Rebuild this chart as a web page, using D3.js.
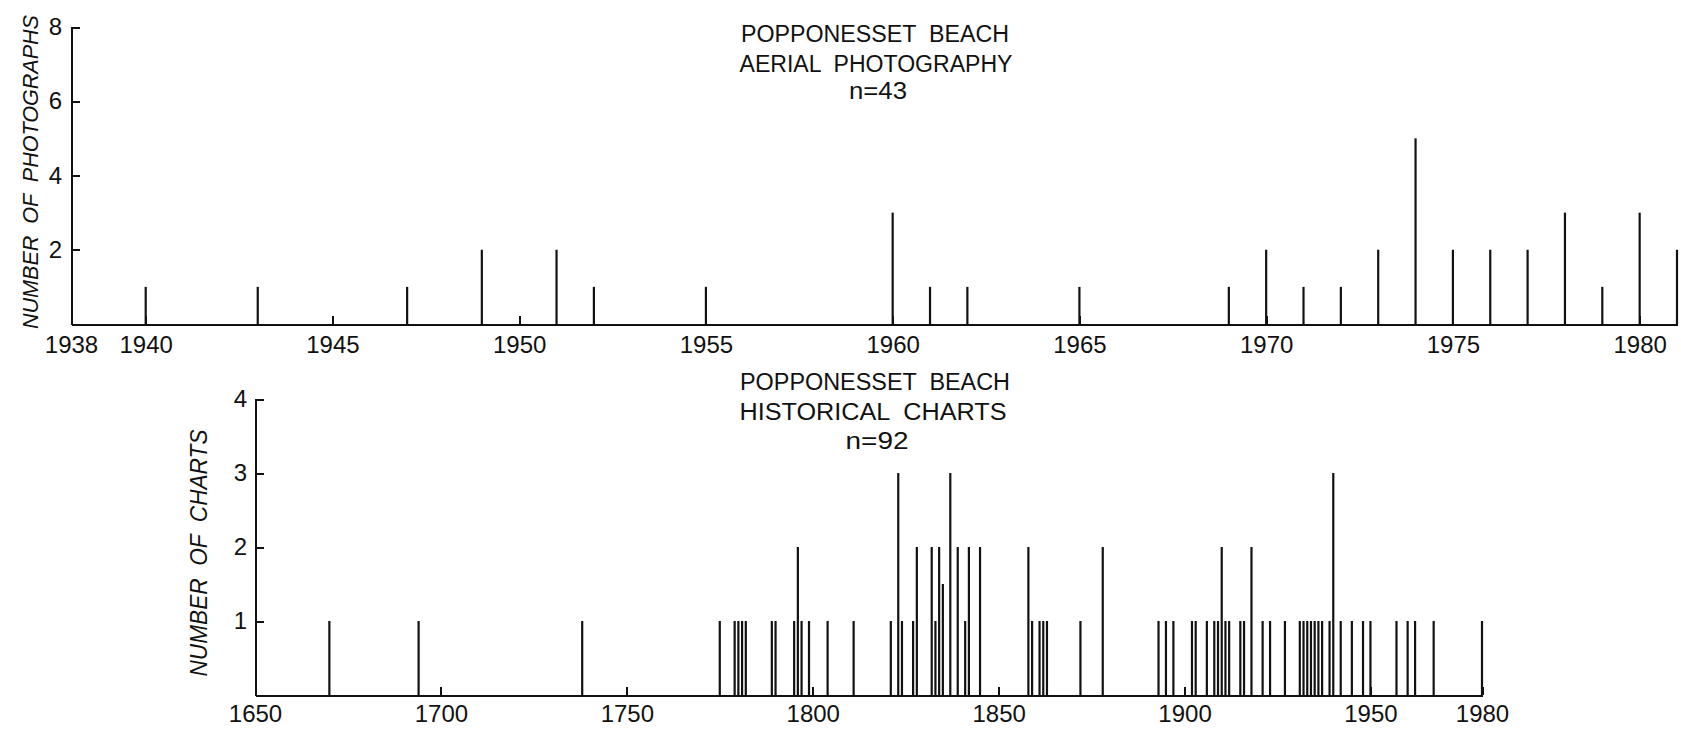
<!DOCTYPE html>
<html>
<head>
<meta charset="utf-8">
<script src="https://cdn.jsdelivr.net/npm/d3@7"></script>
<style>
  html, body { margin: 0; padding: 0; background: #fff; }
  svg { display: block; }
  text { font-family: "Liberation Sans", Arial, sans-serif; fill: #111; }
  .axis path, .axis line { stroke: #111; stroke-width: 2; shape-rendering: crispEdges; }
  .axis text { font-size: 24px; }
</style>
</head>
<body>
<svg id="chart" width="1681" height="729"></svg>
<script>
// ---- Top panel: aerial photography ----
const aerialYears  = [1940,1943,1947,1949,1951,1952,1955,1960,1961,1962,1965,1969,1970,1971,1972,1973,1974,1975,1976,1977,1978,1979,1980,1981];
const aerialCounts = [1,1,1,2,2,1,1,3,1,1,1,1,2,1,1,2,5,2,2,2,3,1,3,2];
const aerialTickYears = [1938,1940,1945,1950,1955,1960,1965,1970,1975,1980];
const aerialYTicks = [2,4,6,8];
const aerialTitle = ["POPPONESSET  BEACH", "AERIAL  PHOTOGRAPHY", "n=43"];
const aerialYLabel = "NUMBER  OF  PHOTOGRAPHS";

// ---- Bottom panel: historical charts ----
const chartYears  = [1670,1694,1738,1775,1779,1780,1781,1782,1789,1790,1795,1796,1797,1799,1804,1811,1821,1823,1824,1827,1828,1832,1833,1834,1835,1837,1839,1841,1842,1845,
                     1858,1859,1861,1862,1863,1872,1878,1893,1895,1897,1902,1903,1906,1908,1909,1910,1911,1912,1915,1916,1918,1921,1923,1927,
                     1931,1932,1933,1934,1935,1936,1937,1939,1940,1942,1945,1948,1950,1957,1960,1962,1967,1980];
const chartCounts = [1,1,1,1,1,1,1,1,1,1,1,2,1,1,1,1,1,3,1,1,2,2,1,2,1.5,3,2,1,2,2,
                     2,1,1,1,1,1,2,1,1,1,1,1,1,1,1,2,1,1,1,1,2,1,1,1,
                     1,1,1,1,1,1,1,1,3,1,1,1,1,1,1,1,1,1];
const chartTickYears = [1650,1700,1750,1800,1850,1900,1950,1980];
const chartYTicks = [1,2,3,4];
const chartTitle = ["POPPONESSET  BEACH", "HISTORICAL  CHARTS", "n=92"];
const chartYLabel = "NUMBER  OF  CHARTS";

const svg = d3.select("#chart");

function panel(cfg) {
  const x = d3.scaleLinear().domain(cfg.xDomain).range(cfg.xRange);
  const y = d3.scaleLinear().domain(cfg.yDomain).range(cfg.yRange);
  const g = svg.append("g");

  // bars (vertical spikes)
  const data = cfg.years.map((yr, i) => ({yr, v: cfg.counts[i]}));
  g.selectAll("line.bar").data(data).enter().append("line")
    .attr("class", "bar")
    .attr("x1", d => x(d.yr)).attr("x2", d => x(d.yr))
    .attr("y1", y(0)).attr("y2", d => y(d.v))
    .attr("stroke", "#111").attr("stroke-width", 2.2);

  // x axis
  const xAxis = d3.axisBottom(x).tickValues(cfg.xTicks).tickFormat(d3.format("d"))
    .tickSizeInner(-8).tickSizeOuter(0).tickPadding(cfg.xPad);
  g.append("g").attr("class", "axis").attr("transform", `translate(0,${y(0)})`).call(xAxis);

  // y axis
  const yAxis = d3.axisLeft(y).tickValues(cfg.yTicks).tickFormat(d3.format("d"))
    .tickSizeInner(-9).tickSizeOuter(0).tickPadding(cfg.yPad);
  g.append("g").attr("class", "axis").attr("transform", `translate(${cfg.xRange[0]},0)`).call(yAxis);

  // titles
  cfg.title.forEach((t, i) => {
    g.append("text")
      .attr("x", cfg.titleX[i]).attr("y", cfg.titleY[i])
      .attr("text-anchor", "middle")
      .attr("textLength", cfg.titleW[i]).attr("lengthAdjust", "spacingAndGlyphs")
      .style("white-space", "pre")
      .style("font-size", "23px")
      .text(t);
  });

  // y label
  g.append("text")
    .attr("transform", `translate(${cfg.yLabelX},${cfg.yLabelY}) rotate(-90)`)
    .attr("text-anchor", "middle")
    .attr("textLength", cfg.yLabelW).attr("lengthAdjust", "spacingAndGlyphs")
    .style("white-space", "pre")
    .style("font-size", cfg.yLabelSize).style("font-style", "italic")
    .text(cfg.yLabel);
}

panel({
  years: aerialYears, counts: aerialCounts,
  xDomain: [1938, 1981], xRange: [71, 1677],
  yDomain: [0, 8], yRange: [324, 27],
  xTicks: aerialTickYears, yTicks: aerialYTicks,
  xPad: 12, yPad: 9,
  title: aerialTitle, titleX: [875, 876, 878], titleY: [42, 72, 99], titleW: [268, 273, 58],
  yLabel: aerialYLabel, yLabelX: 38, yLabelY: 172, yLabelW: 314, yLabelSize: "22px"
});

panel({
  years: chartYears, counts: chartCounts,
  xDomain: [1650, 1980], xRange: [255, 1482],
  yDomain: [0, 4], yRange: [695, 399],
  xTicks: chartTickYears, yTicks: chartYTicks,
  xPad: 10, yPad: 8,
  title: chartTitle, titleX: [875, 873, 877], titleY: [390, 420, 449], titleW: [270, 267, 63],
  yLabel: chartYLabel, yLabelX: 207, yLabelY: 553, yLabelW: 247, yLabelSize: "23px"
});
</script>
</body>
</html>
